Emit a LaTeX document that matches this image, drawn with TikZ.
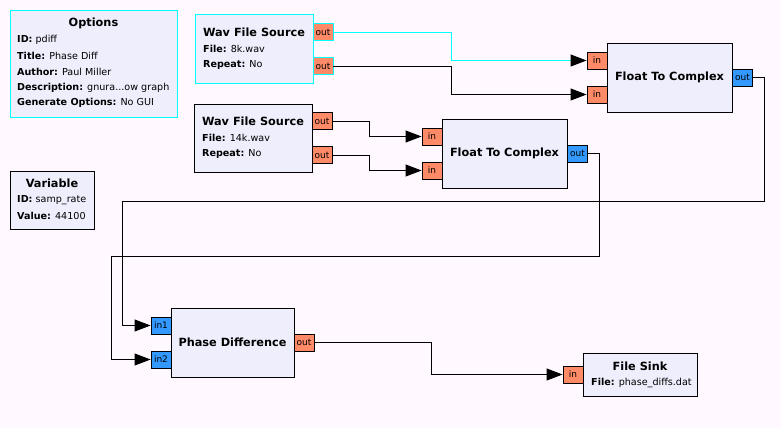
\documentclass[tikz,border=0pt]{standalone}
\usepackage{fontspec}
\setmainfont{DejaVu Sans}
\usetikzlibrary{arrows.meta}

\definecolor{canvas}{HTML}{FFF9FF}
\definecolor{blockfill}{HTML}{EEEEFC}
\definecolor{portred}{HTML}{FF8A68}
\definecolor{portblue}{HTML}{3399FF}
\definecolor{selcyan}{HTML}{00FFFF}

\tikzset{
  block/.style={draw, fill=blockfill, inner sep=0pt, line width=0.9pt},
  port/.style={draw, inner sep=0pt, line width=0.9pt, minimum width=20pt,
    minimum height=17pt, font=\fontsize{9}{10}\selectfont},
  fport/.style={port, fill=portred},
  cport/.style={port, fill=portblue},
  title/.style={inner sep=0pt, font=\bfseries\fontsize{11.3}{12}\selectfont},
  param/.style={anchor=west, inner sep=0pt, font=\fontsize{9.6}{10}\selectfont},
  wire/.style={line width=0.9pt, -{Triangle[length=16pt,width=12pt,color=black]}}
}

\begin{document}
\begin{tikzpicture}[x=1pt,y=-1pt]
  \fill[canvas] (0,0) rectangle (781,428);

  % blocks
  \node[block, draw=selcyan, minimum width=167pt, minimum height=107pt] (opts) at (93.5,63.5) {};
  \node[block, draw=selcyan, minimum width=118pt, minimum height=69pt] (srcA) at (254,48.5) {};
  \node[block, minimum width=118pt, minimum height=68pt] (srcB) at (253,138) {};
  \node[block, minimum width=84pt, minimum height=58pt] (var) at (52,200) {};
  \node[block, minimum width=125pt, minimum height=69pt] (ftcA) at (669.5,77.5) {};
  \node[block, minimum width=125pt, minimum height=69pt] (ftcB) at (504.5,153.5) {};
  \node[block, minimum width=123pt, minimum height=69pt] (pdiff) at (232.5,342.5) {};
  \node[block, minimum width=114pt, minimum height=43pt] (sink) at (640,374.5) {};

  % ports
  \node[fport, draw=selcyan] (srcA-o0) at (323,32) {out};
  \node[fport, draw=selcyan] (srcA-o1) at (323,66) {out};
  \node[fport] (srcB-o0) at (322,121) {out};
  \node[fport] (srcB-o1) at (322,155) {out};
  \node[fport] (ftcA-i0) at (597,60.5) {in};
  \node[fport] (ftcA-i1) at (597,94.5) {in};
  \node[cport] (ftcA-o0) at (742.5,77.5) {out};
  \node[fport] (ftcB-i0) at (432,136.5) {in};
  \node[fport] (ftcB-i1) at (432,170.5) {in};
  \node[cport] (ftcB-o0) at (577.5,153.5) {out};
  \node[cport] (pdiff-i1) at (161,325.5) {in1};
  \node[cport] (pdiff-i2) at (161,359.5) {in2};
  \node[fport] (pdiff-o0) at (304,342.5) {out};
  \node[fport] (sink-i0) at (573,374.5) {in};

  % texts
  \node[title] at (93.5,23) {Options};
  \node[param] at (17,40) {\textbf{ID:} pdiff};
  \node[param] at (17,55.5) {\textbf{Title:} Phase Diff};
  \node[param] at (17,71.5) {\textbf{Author:} Paul Miller};
  \node[param] at (17,87.5) {\textbf{Description:} gnura...ow graph};
  \node[param] at (17,103) {\textbf{Generate Options:} No GUI};

  \node[title] at (254,32) {Wav File Source};
  \node[param] at (203,49) {\textbf{File:} 8k.wav};
  \node[param] at (203,64.5) {\textbf{Repeat:} No};

  \node[title] at (253,121) {Wav File Source};
  \node[param] at (202,137.5) {\textbf{File:} 14k.wav};
  \node[param] at (202,153.5) {\textbf{Repeat:} No};

  \node[title] at (52,183) {Variable};
  \node[param] at (17,200) {\textbf{ID:} samp\_rate};
  \node[param] at (17,215.5) {\textbf{Value:} 44100};

  \node[title] at (ftcA) {Float To Complex};
  \node[title] at (ftcB) {Float To Complex};
  \node[title] at (pdiff) {Phase Difference};
  \node[title] at (640,366) {File Sink};
  \node[param] at (591,383) {\textbf{File:} phase\_diffs.dat};

  % bend points
  \coordinate (kA) at (451,0);
  \coordinate (kB) at (369,0);
  \coordinate (kC) at (764,201);
  \coordinate (kD) at (122,201);
  \coordinate (kE) at (599,256);
  \coordinate (kF) at (111.5,256);
  \coordinate (kG) at (431,0);

  % connections
  \draw[wire, selcyan] (srcA-o0.east) -- (srcA-o0 -| kA) -- (ftcA-i0 -| kA) -- (ftcA-i0.west);
  \draw[wire] (srcA-o1.east) -- (srcA-o1 -| kA) -- (ftcA-i1 -| kA) -- (ftcA-i1.west);
  \foreach \from/\to in {srcB-o0/ftcB-i0, srcB-o1/ftcB-i1}
    \draw[wire] (\from.east) -- (\from -| kB) -- (\to -| kB) -- (\to.west);
  \draw[wire] (pdiff-o0.east) -- (pdiff-o0 -| kG) -- (sink-i0 -| kG) -- (sink-i0.west);
  \draw[wire] (ftcA-o0.east) -- (ftcA-o0 -| kC) -- (kC) -- (kD) -- (pdiff-i1 -| kD) -- (pdiff-i1.west);
  \draw[wire] (ftcB-o0.east) -- (ftcB-o0 -| kE) -- (kE) -- (kF) -- (pdiff-i2 -| kF) -- (pdiff-i2.west);

\end{tikzpicture}
\end{document}
